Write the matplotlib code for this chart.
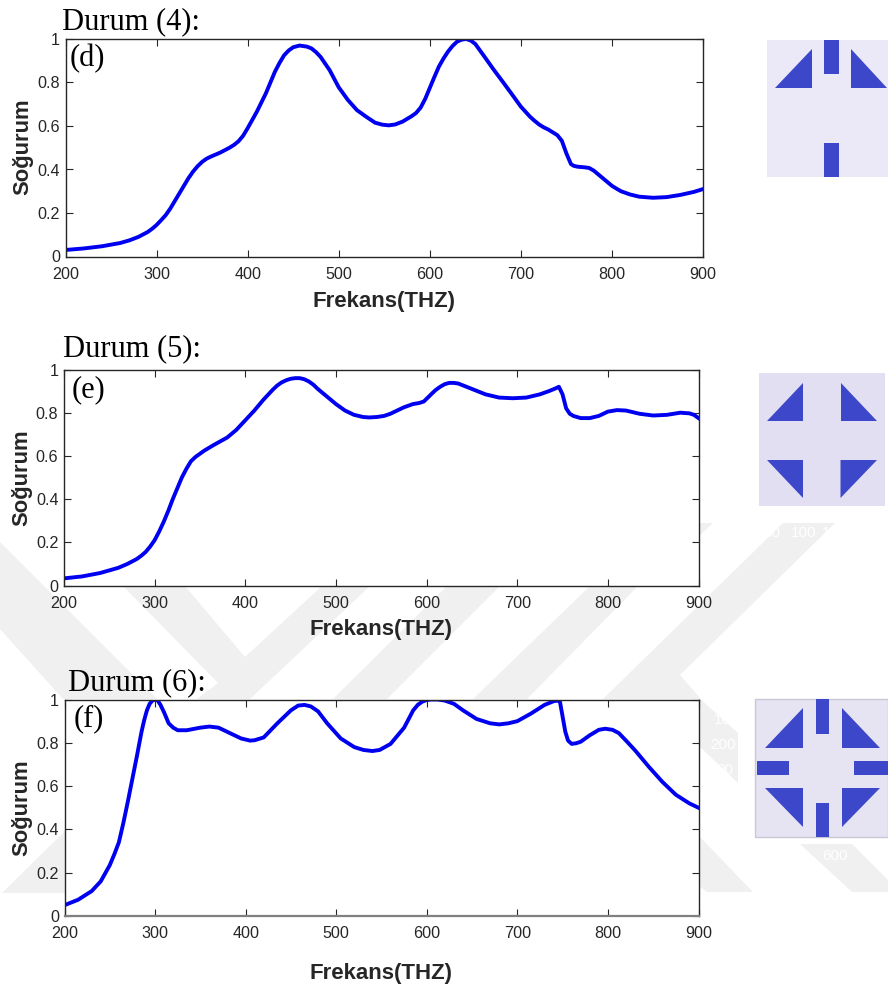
import matplotlib
matplotlib.use("Agg")
import matplotlib.pyplot as plt
from matplotlib.patches import Polygon

W, H = 888, 990

# ---------- data ----------
freq_d = [200,220,240,260,270,280,290,295,300,305,310,315,320,325,330,335,340,345,350,355,360,370,380,385,390,395,400,410,420,430,435,440,445,450,457,465,470,475,480,490,500,510,520,530,540,548,555,562,570,580,585,590,595,600,605,610,615,620,625,630,635,640,645,650,660,670,680,690,700,710,715,720,725,730,740,745,750,755,758,762,770,775,780,790,800,805,810,820,830,845,860,875,890,900]
abs_d = [.03,.037,.047,.062,.074,.09,.112,.127,.145,.167,.19,.22,.255,.29,.325,.36,.39,.415,.435,.45,.46,.478,.5,.513,.53,.555,.59,.665,.75,.85,.89,.925,.947,.962,.97,.965,.957,.94,.918,.857,.778,.72,.673,.643,.615,.606,.603,.607,.62,.645,.66,.685,.725,.775,.825,.873,.91,.942,.968,.988,.997,1.0,.993,.977,.919,.86,.804,.747,.689,.643,.624,.607,.594,.584,.558,.532,.474,.425,.417,.413,.41,.407,.395,.36,.325,.312,.30,.285,.275,.27,.273,.283,.297,.31]

freq_e = [200,220,240,260,270,280,285,290,295,300,305,310,315,320,325,330,335,340,345,350,355,365,380,390,400,410,420,430,435,440,445,450,455,460,465,470,475,480,490,500,510,520,530,537,545,553,560,575,585,592,597,605,610,615,620,625,630,635,650,665,680,695,710,725,735,742,746,750,754,758,762,770,780,790,800,810,820,835,850,865,880,890,895,900]
abs_e = [.033,.042,.058,.082,.10,.122,.137,.155,.18,.21,.25,.295,.345,.40,.45,.50,.54,.575,.595,.61,.625,.65,.685,.72,.765,.81,.86,.905,.925,.94,.95,.957,.96,.96,.955,.945,.93,.91,.875,.84,.81,.79,.78,.778,.78,.785,.795,.825,.84,.845,.852,.885,.905,.92,.932,.938,.938,.935,.91,.885,.87,.867,.87,.885,.9,.912,.92,.885,.82,.795,.785,.775,.775,.785,.805,.812,.81,.795,.787,.79,.80,.797,.79,.775]

freq_f = [200,215,230,240,250,255,260,265,270,275,280,285,288,291,294,297,300,303,306,310,315,320,325,335,350,360,370,380,395,405,410,420,435,450,458,465,472,480,490,505,520,530,540,548,560,575,585,590,595,600,605,612,620,630,640,655,670,680,690,700,715,730,740,744,747,750,753,756,760,765,770,780,790,797,805,812,820,830,845,860,875,890,900]
abs_f = [.05,.075,.115,.16,.235,.285,.34,.43,.53,.635,.74,.85,.905,.95,.98,.995,1.0,.995,.975,.94,.89,.87,.858,.858,.87,.875,.87,.85,.82,.81,.812,.825,.89,.95,.972,.975,.968,.945,.89,.82,.78,.767,.762,.767,.795,.87,.95,.975,.99,.998,1.0,1.0,.995,.98,.95,.91,.89,.885,.89,.90,.935,.975,.992,.995,.99,.92,.85,.81,.795,.798,.805,.835,.86,.865,.86,.845,.81,.765,.69,.62,.56,.52,.50]

x_ticks = [200,300,400,500,600,700,800,900]
x_labels = ['200','300','400','500','600','700','800','900']
y_ticks = [0,.2,.4,.6,.8,1]
y_labels = ['0','0.2','0.4','0.6','0.8','1']

panels = [
    dict(x=freq_d, y=abs_d, box=(65.5,39,703,256.5), title='Durum (4):', tpos=(62,22), letter='(d)', lpos=(70,59), xl=(384,301), yl=(23,147)),
    dict(x=freq_e, y=abs_e, box=(64,369.5,698.5,585.5), title='Durum (5):', tpos=(63,349), letter='(e)', lpos=(72,390), xl=(381,630), yl=(22,478)),
    dict(x=freq_f, y=abs_f, box=(64.5,699.5,698.5,916), title='Durum (6):', tpos=(68,683), letter='(f)', lpos=(74,719), xl=(381,973), yl=(22,808)),
]

# ---------- decoration shapes, in image pixels ----------
watermark = [
    [(0,542),(157,699),(63,699),(0,629)],
    [(123,586),(218,683),(197,699),(250,699),(370,586),(322,586),(245,657),(185,586)],
    [(447,586),(500,586),(387,699),(333,699)],
    [(590,586),(638,586),(527,699),(473,699)],
    [(783,523),(835,523),(680,675),(701,699),(603,699)],
    [(698,523),(713,523),(698,537)],
    [(698,697),(738,733),(738,783),(698,745)],
    [(698,835),(753,892),(707,892),(698,885)],
    [(800,844),(852,844),(888,880),(888,892),(852,892)],
    [(2,893),(66,830),(66,893)],
]
ghost_labels = [('50',772,533),('100',804,533),('1',826,533),('10',722,720),('200',723,745),('00',725,770),('600',835,856)]

icon_bg = [((767,40,888,177),'#EBE9F7',None),((759,373,885,506),'#E2DFF3',None),((755,699,888,837),'#E6E4F3','#C9C9D6')]
rects = [(824.3,40,838.7,74),(824.3,143,838.7,177),
         (815.7,699,829,734),(815.7,803,829,837),(756.5,761,789.3,775),(854.3,761,888,775)]
tris = [[(775,88),(812,49),(812,88)],[(851,49),(851,88),(887,88)],
        [(767,421),(803,383),(803,421)],[(840.5,383),(840.5,421),(877,421)],
        [(767,460),(803,460),(803,498)],[(840.5,460),(877,460),(840.5,498)],
        [(765,748),(803,708),(803,748)],[(842,708),(842,748),(880,748)],
        [(765,788),(803,788),(803,827)],[(842,788),(880,788),(842,827)]]
BLUE_ICON = '#3D47C9'
GREY = '#F0F0F0'

fig = plt.figure(figsize=(W/100, H/100), dpi=100, facecolor='white')
bg = fig.add_axes([0,0,1,1], zorder=0)
bg.set_xlim(0,W); bg.set_ylim(H,0); bg.axis('off')

for p in watermark:
    bg.add_patch(Polygon(p, closed=True, fc=GREY, ec='none'))
for t,x,y in ghost_labels:
    bg.text(x,y,t,color='white',fontsize=11,family='Liberation Sans',ha='center',va='center')
for (x0,y0,x1,y1),c,e in icon_bg:
    bg.add_patch(Polygon([(x0,y0),(x1,y0),(x1,y1),(x0,y1)],closed=True,fc=c,ec=e or 'none',lw=1 if e else 0))
for x0,y0,x1,y1 in rects:
    bg.add_patch(Polygon([(x0,y0),(x1,y0),(x1,y1),(x0,y1)],closed=True,fc=BLUE_ICON,ec='none'))
for t in tris:
    bg.add_patch(Polygon(t,closed=True,fc=BLUE_ICON,ec='none'))

for i,p in enumerate(panels):
    x0,y0,x1,y1 = p['box']
    ax = fig.add_axes([x0/W, 1-y1/H, (x1-x0)/W, (y1-y0)/H], zorder=1)
    ax.plot(p['x'], p['y'], color='#0000F0', lw=2.8, solid_joinstyle='round')
    ax.set_xlim(200,900); ax.set_ylim(0,1)
    ax.set_xticks(x_ticks, x_labels); ax.set_yticks(y_ticks, y_labels)
    ax.tick_params(direction='in', length=5, width=0.8, top=True, right=True,
                   labelsize=11.6, labelcolor='#262626', color='#262626')
    ax.tick_params(axis='x', pad=7.5)
    ax.tick_params(axis='y', pad=4)
    for lab in ax.get_xticklabels()+ax.get_yticklabels():
        lab.set_family('Liberation Sans')
    for s in ax.spines.values():
        s.set_linewidth(1.0); s.set_color('#262626')
    if i == 2:
        ax.spines['bottom'].set_color('#808080'); ax.spines['bottom'].set_linewidth(1.6)
    ax.set_xlabel('Frekans(THZ)', fontsize=16, fontweight='bold', family='Liberation Sans', color='#262626')
    ax.xaxis.set_label_coords((p['xl'][0]-x0)/(x1-x0), 1-(p['xl'][1]-y0)/(y1-y0))
    ax.xaxis.label.set_va('center')
    ax.set_ylabel('Soğurum', fontsize=15.8, fontweight='bold', family='Liberation Sans', color='#262626')
    ax.yaxis.set_label_coords((p['yl'][0]-x0)/(x1-x0), 1-(p['yl'][1]-y0)/(y1-y0))
    ax.yaxis.label.set_va('center')
    ax.text((p['lpos'][0]-x0)/(x1-x0), 1-(p['lpos'][1]-y0)/(y1-y0), p['letter'], transform=ax.transAxes,
            family='Liberation Serif', fontsize=22, va='center', ha='left', color='black')
    bg.text(p['tpos'][0], p['tpos'][1], p['title'], family='Liberation Serif', fontsize=22, va='center', ha='left', color='black')

fig.savefig('out.png', dpi=100)
